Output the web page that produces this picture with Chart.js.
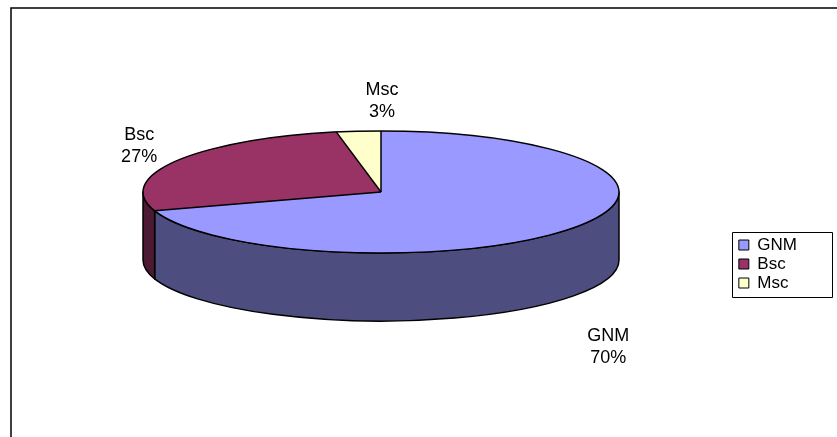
<!DOCTYPE html>
<html>
<head>
<meta charset="utf-8">
<script src="https://cdn.jsdelivr.net/npm/chart.js@4.4.1/dist/chart.umd.min.js"></script>
<style>
    html, body { margin: 0; padding: 0; background: #fff; }
    #wrap { width: 837px; height: 437px; position: relative; }
</style>
</head>
<body>
<div id="wrap"><canvas id="grafica"></canvas></div>
<script>
const categorias = ['GNM', 'Bsc', 'Msc'];
const valores = [70, 27, 3];
const coloresCara = ['#9999FF', '#993366', '#FFFFCC'];
const coloresLado = ['#4D4D80', '#4D1A33', '#80805F'];

// geometria del pastel inclinado (pantalla)
const PASTEL = { cx: 381, cy: 192, rx: 238, ry: 61, fondo: 68 };
const FUENTE = '"Liberation Sans", Arial, sans-serif';

const pastel3d = {
    id: 'pastel3d',
    beforeDraw(chart) {
        const ctx = chart.ctx;
        ctx.save();
        ctx.fillStyle = '#fff';
        ctx.fillRect(0, 0, chart.width, chart.height);
        ctx.strokeStyle = '#000';
        ctx.lineWidth = 1.5;
        ctx.beginPath();
        ctx.moveTo(11, chart.height);
        ctx.lineTo(11, 8);
        ctx.lineTo(chart.width, 8);
        ctx.stroke();
        ctx.restore();
    },
    beforeDatasetsDraw(chart) {
        const ctx = chart.ctx;
        const arcs = chart.getDatasetMeta(0).data;
        const { cx, cy, rx, ry, fondo } = PASTEL;

        // paredes laterales visibles (mitad delantera)
        arcs.forEach((arc, i) => {
            const a = Math.max(arc.startAngle, 0);
            const b = Math.min(arc.endAngle, Math.PI);
            if (b <= a) return;
            ctx.beginPath();
            ctx.ellipse(cx, cy, rx, ry, 0, a, b);
            ctx.lineTo(cx + rx * Math.cos(b), cy + fondo + ry * Math.sin(b));
            ctx.ellipse(cx, cy + fondo, rx, ry, 0, b, a, true);
            ctx.closePath();
            ctx.fillStyle = coloresLado[i];
            ctx.fill();
            ctx.lineWidth = 1.5;
            ctx.lineJoin = 'round';
            ctx.strokeStyle = '#000';
            ctx.stroke();
        });

        // la cara superior la dibuja Chart.js, aplastada en elipse
        const a0 = arcs[0];
        ctx.save();
        ctx.translate(cx, cy);
        ctx.scale(rx / a0.outerRadius, ry / a0.outerRadius);
        ctx.translate(-a0.x, -a0.y);
    },
    afterDatasetsDraw(chart) {
        const ctx = chart.ctx;
        ctx.restore();
        const arcs = chart.getDatasetMeta(0).data;
        const { cx, cy, rx, ry, fondo } = PASTEL;

        ctx.save();
        ctx.strokeStyle = '#000';
        ctx.lineWidth = 1.5;
        ctx.lineJoin = 'round';
        ctx.beginPath();
        ctx.ellipse(cx, cy, rx, ry, 0, 0, Math.PI * 2);
        ctx.stroke();
        arcs.forEach(arc => {
            ctx.beginPath();
            ctx.moveTo(cx, cy);
            ctx.lineTo(cx + rx * Math.cos(arc.startAngle), cy + ry * Math.sin(arc.startAngle));
            ctx.stroke();
        });

        // etiquetas
        const total = valores.reduce((s, v) => s + v, 0);
        ctx.fillStyle = '#000';
        ctx.font = '18px ' + FUENTE;
        ctx.textAlign = 'center';
        ctx.textBaseline = 'middle';
        arcs.forEach((arc, i) => {
            const m = (arc.startAngle + arc.endAngle) / 2;
            const s = Math.sin(m);
            const c = Math.cos(m);
            // cerca de la cima Excel centra la etiqueta sobre el borde
            const x = Math.abs(c) < 0.3 ? cx - c * 10 : cx + c * (rx + 43);
            const y = cy + s * (ry + 30) + (s > 0 ? fondo * 1.5 : 0);
            const pct = Math.round(valores[i] / total * 100) + '%';
            ctx.fillText(categorias[i], x, y - 11);
            ctx.fillText(pct, x, y + 11);
        });
        ctx.restore();
    },
    afterDraw(chart) {
        const cajas = chart.legend.legendHitBoxes;
        if (!cajas || !cajas.length) return;
        const ctx = chart.ctx;
        const izq = Math.min(...cajas.map(c => c.left)) - 7;
        const arriba = Math.min(...cajas.map(c => c.top)) - 5;
        const abajo = Math.max(...cajas.map(c => c.top + c.height)) + 5;
        const der = chart.width - 5;
        ctx.save();
        ctx.strokeStyle = '#000';
        ctx.lineWidth = 1;
        ctx.strokeRect(Math.round(izq) + 0.5, Math.round(arriba) + 0.5, Math.round(der - izq), Math.round(abajo - arriba));
        ctx.restore();
    }
};

new Chart(document.getElementById('grafica'), {
    type: 'pie',
    data: {
        labels: categorias,
        datasets: [{
            data: valores,
            backgroundColor: coloresCara,
            borderWidth: 0
        }]
    },
    options: {
        responsive: true,
        maintainAspectRatio: false,
        animation: false,
        events: [],
        layout: { padding: { top: 91, right: 30, bottom: 0, left: 0 } },
        plugins: {
            tooltip: { enabled: false },
            legend: {
                position: 'right',
                labels: {
                    color: '#000',
                    font: { family: FUENTE, size: 17 },
                    boxWidth: 10,
                    boxHeight: 10,
                    padding: 2,
                    generateLabels() {
                        return categorias.map((c, i) => ({
                            text: c,
                            fillStyle: coloresCara[i],
                            strokeStyle: '#000',
                            lineWidth: 1,
                            fontColor: '#000',
                            hidden: false,
                            index: i
                        }));
                    }
                }
            }
        }
    },
    plugins: [pastel3d]
});
</script>
</body>
</html>
